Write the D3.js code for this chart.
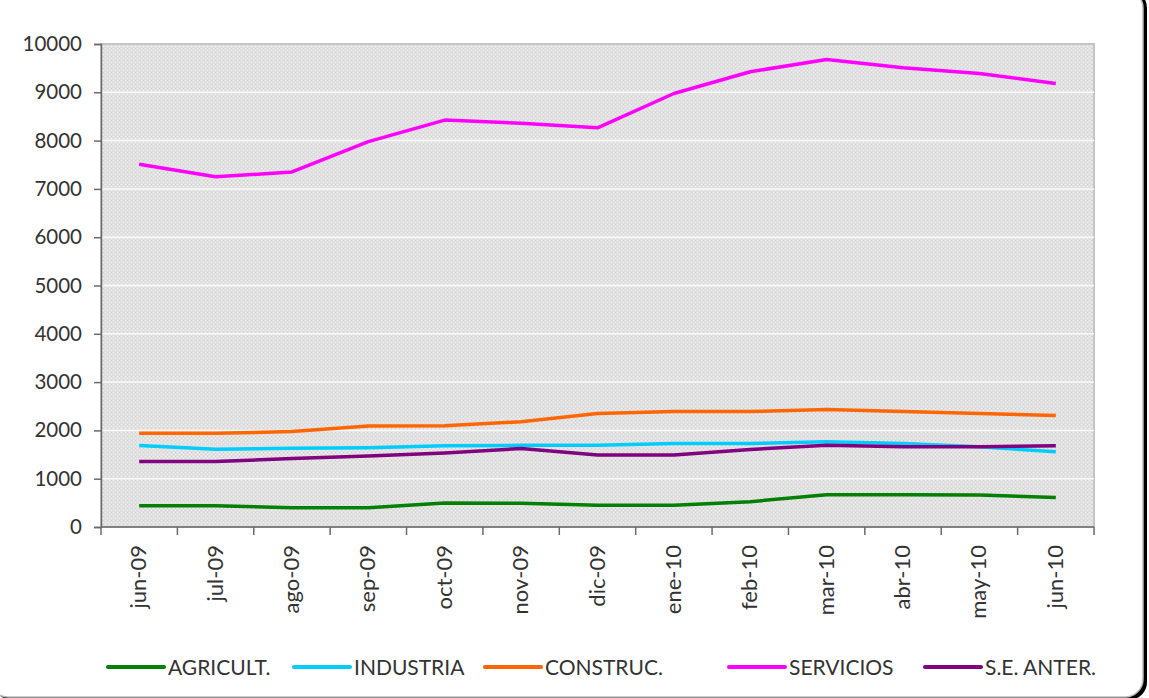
<!DOCTYPE html>
<html>
<head>
<meta charset="utf-8">
<script src="https://cdn.jsdelivr.net/npm/d3@7"></script>
<style>
  body { margin: 0; background: #fff; }
  svg { display: block; }
</style>
</head>
<body>
<div id="chart"></div>
<script>
// months on the x axis
var months = ["jun-09", "jul-09", "ago-09", "sep-09", "oct-09", "nov-09", "dic-09",
              "ene-10", "feb-10", "mar-10", "abr-10", "may-10", "jun-10"];

// series
var agricult  = [440, 440, 400, 400, 495, 490, 450, 450, 525, 670, 670, 660, 610];
var industria = [1685, 1610, 1630, 1640, 1680, 1690, 1695, 1730, 1730, 1765, 1730, 1660, 1560];
var construc  = [1940, 1940, 1975, 2090, 2095, 2180, 2350, 2390, 2390, 2435, 2390, 2350, 2310];
var servicios = [7510, 7250, 7350, 7980, 8425, 8360, 8265, 8975, 9425, 9680, 9510, 9390, 9180];
var seAnter   = [1355, 1355, 1420, 1470, 1530, 1625, 1490, 1490, 1605, 1695, 1660, 1660, 1680];

var yTicks = [0, 1000, 2000, 3000, 4000, 5000, 6000, 7000, 8000, 9000, 10000];

var series = [
  {name: "AGRICULT.",   values: agricult,  color: "#008000"},
  {name: "INDUSTRIA",   values: industria, color: "#00ccff"},
  {name: "CONSTRUC.",   values: construc,  color: "#ff6600"},
  {name: "SERVICIOS",   values: servicios, color: "#ff00ff"},
  {name: "S.E. ANTER.", values: seAnter,   color: "#800080"}
];

var W = 1149, H = 698;
var margin = {top: 44, right: 55, bottom: 171, left: 101};
var width = W - margin.left - margin.right,
    height = H - margin.top - margin.bottom;
var font = "Lato, 'Open Sans', sans-serif";

var svg = d3.select("#chart")
  .append("svg")
    .attr("width", W)
    .attr("height", H);

// outer frame with dark shadow on the right
svg.append("rect")
  .attr("x", -6).attr("y", -10)
  .attr("width", 1153).attr("height", 710)
  .attr("rx", 18)
  .attr("fill", "#000");
svg.append("rect")
  .attr("x", -10).attr("y", -10)
  .attr("width", 1153).attr("height", 707)
  .attr("rx", 18)
  .attr("fill", "#fff")
  .attr("stroke", "#bdbdbd")
  .attr("stroke-width", 1.5);

// dotted grey fill for the plot area
var defs = svg.append("defs");
var pat = defs.append("pattern")
  .attr("id", "dots")
  .attr("width", 4).attr("height", 4)
  .attr("patternUnits", "userSpaceOnUse");
pat.append("rect").attr("width", 4).attr("height", 4).attr("fill", "#e0e0e0");
pat.append("rect").attr("x", 0).attr("y", 0).attr("width", 1).attr("height", 1).attr("fill", "#f2f2f2");
pat.append("rect").attr("x", 2).attr("y", 2).attr("width", 1).attr("height", 1).attr("fill", "#f2f2f2");
pat.append("rect").attr("x", 2).attr("y", 0).attr("width", 1).attr("height", 1).attr("fill", "#d4d4d4");

var g = svg.append("g")
  .attr("transform", "translate(" + margin.left + "," + margin.top + ")");

var x = d3.scaleBand().domain(months).range([0, width]);
var y = d3.scaleLinear().domain([0, 10000]).range([height, 0]);

g.append("rect")
  .attr("width", width).attr("height", height)
  .attr("fill", "url(#dots)")
  .attr("stroke", "#c4c4c4")
  .attr("stroke-width", 2);

// white gridlines
g.selectAll(".grid")
  .data(yTicks.slice(1, -1))
  .enter().append("line")
    .attr("class", "grid")
    .attr("x1", 0).attr("x2", width)
    .attr("y1", function(d) { return y(d); })
    .attr("y2", function(d) { return y(d); })
    .attr("stroke", "#fafafa")
    .attr("stroke-width", 1.5);

// y axis
var yAxis = g.append("g")
  .call(d3.axisLeft(y).tickValues(yTicks).tickSize(7).tickPadding(12).tickFormat(d3.format("d")));
yAxis.select(".domain").attr("stroke", "#6b6b6b").attr("stroke-width", 1.5);
yAxis.selectAll(".tick line").attr("stroke", "#6b6b6b").attr("stroke-width", 1.5);
yAxis.selectAll("text")
  .attr("font-family", font)
  .attr("font-size", 20.5)
  .attr("fill", "#333");

// x axis: ticks on band edges, labels rotated
var xAxis = g.append("g")
  .attr("transform", "translate(0," + height + ")");
xAxis.append("line")
  .attr("x1", 0).attr("x2", width)
  .attr("stroke", "#6b6b6b").attr("stroke-width", 1.5);
xAxis.selectAll(".xtick")
  .data(months.concat(["end"]))
  .enter().append("line")
    .attr("class", "xtick")
    .attr("x1", function(d, i) { return i * x.bandwidth(); })
    .attr("x2", function(d, i) { return i * x.bandwidth(); })
    .attr("y1", 0).attr("y2", 8)
    .attr("stroke", "#6b6b6b").attr("stroke-width", 1.5);
xAxis.selectAll(".xlabel")
  .data(months)
  .enter().append("text")
    .attr("class", "xlabel")
    .attr("transform", function(d) {
      return "translate(" + (x(d) + x.bandwidth() / 2 + 7) + ",18) rotate(-90)";
    })
    .attr("text-anchor", "end")
    .attr("font-family", font)
    .attr("font-size", 22)
    .attr("fill", "#333")
    .text(function(d) { return d; });

// lines
var line = d3.line()
  .x(function(d, i) { return x(months[i]) + x.bandwidth() / 2; })
  .y(function(d) { return y(d); });

g.selectAll(".series")
  .data(series)
  .enter().append("path")
    .attr("class", "series")
    .attr("d", function(d) { return line(d.values); })
    .attr("fill", "none")
    .attr("stroke", function(d) { return d.color; })
    .attr("stroke-width", 3.5)
    .attr("stroke-linejoin", "round");

// legend
var legendX = [108, 294, 485, 729, 925];
var legend = svg.selectAll(".legend")
  .data(series)
  .enter().append("g")
    .attr("class", "legend")
    .attr("transform", function(d, i) { return "translate(" + legendX[i] + ",667)"; });
legend.append("line")
  .attr("x1", 0).attr("x2", 56)
  .attr("stroke", function(d) { return d.color; })
  .attr("stroke-width", 4)
  .attr("stroke-linecap", "round");
legend.append("text")
  .attr("x", 60).attr("y", 7.5)
  .attr("font-family", font)
  .attr("font-size", 21)
  .attr("fill", "#333")
  .text(function(d) { return d.name; });
</script>
</body>
</html>
